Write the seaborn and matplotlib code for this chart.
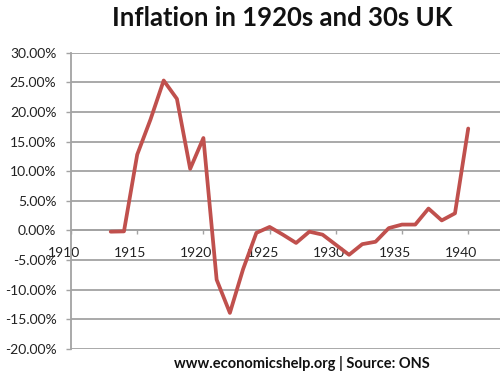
import matplotlib
matplotlib.use("Agg")
import matplotlib.pyplot as plt
import matplotlib.transforms as mtransforms
from matplotlib.ticker import FuncFormatter, MultipleLocator
import seaborn as sns
import pandas as pd

years = [1913, 1914, 1915, 1916, 1917, 1918, 1919, 1920, 1921, 1922, 1923,
         1924, 1925, 1926, 1927, 1928, 1929, 1930, 1931, 1932, 1933, 1934,
         1935, 1936, 1937, 1938, 1939, 1940]
inflation = [-0.2, -0.15, 12.8, 18.7, 25.3, 22.2, 10.4, 15.6, -8.3, -13.9, -6.5,
             -0.4, 0.6, -0.7, -2.1, -0.2, -0.7, -2.4, -4.1, -2.3, -1.9, 0.4,
             1.0, 1.0, 3.7, 1.7, 2.9, 17.2]
x_ticks = [1910, 1915, 1920, 1925, 1930, 1935, 1940]
title = "Inflation in 1920s and 30s UK"
footer = "www.economicshelp.org | Source: ONS"

df = pd.DataFrame({"year": years, "inflation": inflation})

sns.set_theme(style="white")
plt.rcParams["font.family"] = ["Lato", "DejaVu Sans"]

fig = plt.figure(figsize=(5.0, 3.87), dpi=100)
ax = fig.add_axes([0.142, 0.098, 0.858, 0.766])

grid_c = "#a3a3a3"
sns.lineplot(data=df, x="year", y="inflation", ax=ax, color="#c0504d",
             linewidth=2.7, zorder=3)

ax.set_xlim(1910, 1942.4)
ax.set_ylim(-20, 30)
ax.yaxis.set_major_locator(MultipleLocator(5))
ax.yaxis.set_major_formatter(FuncFormatter(lambda v, p: f"{v:.2f}%"))
ax.set_xticks(x_ticks)
ax.set_xticklabels([str(t) for t in x_ticks])

ax.grid(axis="y", color=grid_c, linewidth=1.3)
ax.set_axisbelow(True)
for s in ["top", "right"]:
    ax.spines[s].set_visible(False)
ax.spines["left"].set_color(grid_c)
ax.spines["left"].set_linewidth(1.3)
ax.spines["bottom"].set_position(("data", 0))
ax.spines["bottom"].set_color(grid_c)
ax.spines["bottom"].set_linewidth(1.3)

ax.tick_params(axis="y", direction="out", length=3.5, width=1.0, color=grid_c,
               pad=7, labelsize=10, labelcolor="#222222", left=True)
ax.tick_params(axis="x", direction="out", length=3, width=1.0, color=grid_c,
               pad=9, labelsize=10, labelcolor="#222222", bottom=True)

offset = mtransforms.ScaledTranslation(-7 / 100, 0, fig.dpi_scale_trans)
for lbl in ax.get_xticklabels():
    lbl.set_transform(lbl.get_transform() + offset)

ax.set_xlabel("")
ax.set_ylabel("")

fig.text(0.565, 0.953, title, ha="center", va="center", fontsize=18.5,
         fontweight="bold", color="#111111")
fig.text(0.604, 0.062, footer, ha="center", va="center", fontsize=10.5,
         fontweight="bold", color="#111111")

fig.savefig("out.png", dpi=100)
